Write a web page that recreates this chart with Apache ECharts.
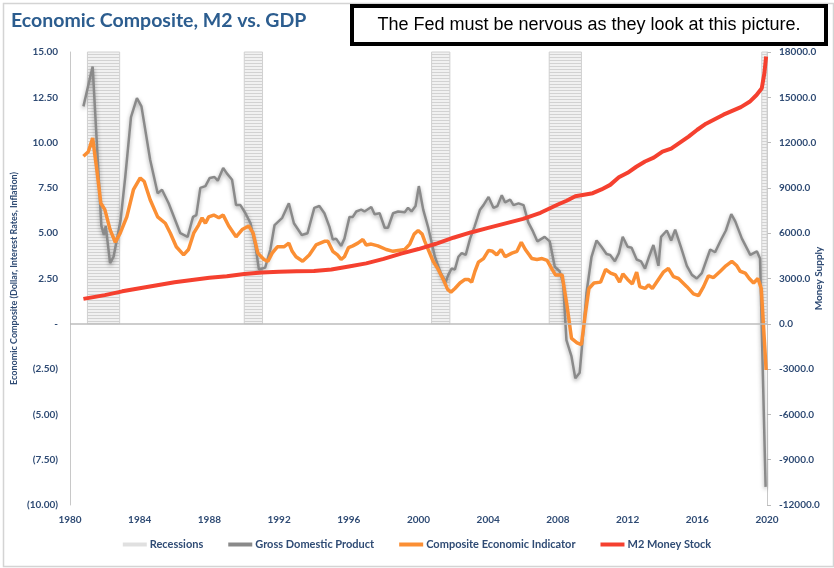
<!DOCTYPE html>
<html>
<head>
<meta charset="utf-8">
<script src="https://cdn.jsdelivr.net/npm/echarts@6/dist/echarts.min.js"></script>
<style>
html,body{margin:0;padding:0;background:#fff;}
#chart{width:834px;height:568px;}
</style>
</head>
<body>
<div id="chart"></div>
<script>
// ---- Data ----
const xTickLabels = ['1980','1984','1988','1992','1996','2000','2004','2008','2012','2016','2020'];
const leftTicks = [-10, -7.5, -5, -2.5, 0, 2.5, 5, 7.5, 10, 12.5, 15];
const rightTicks = [-12000, -9000, -6000, -3000, 0, 3000, 6000, 9000, 12000, 15000, 18000];

const recessions = [
  [1981.0, 1982.85],
  [1990.0, 1991.05],
  [2000.75, 2001.8],
  [2007.5, 2009.35],
  [2019.7, 2020.0]
];

const gdpYears = [1980.77,1981.3,1981.8,1981.95,1982.05,1982.3,1982.5,1982.9,1983.17,1983.5,1983.84,1984.1,1984.6,1985.03,1985.28,1985.66,1986.33,1986.75,1987.06,1987.25,1987.48,1987.77,1988.02,1988.29,1988.48,1988.79,1989.0,1989.3,1989.53,1989.78,1990.07,1990.36,1990.65,1990.84,1991.2,1991.5,1991.74,1992.18,1992.56,1992.85,1993.3,1993.63,1994.02,1994.31,1994.6,1994.89,1995.08,1995.27,1995.56,1995.75,1996.04,1996.23,1996.43,1996.71,1996.9,1997.29,1997.48,1997.77,1998.06,1998.25,1998.54,1998.83,1999.21,1999.4,1999.6,1999.83,2000.02,2000.27,2000.56,2000.94,2001.28,2001.56,2001.71,2001.9,2002.09,2002.29,2002.48,2002.71,2002.96,2003.21,2003.53,2003.73,2004.02,2004.3,2004.53,2004.78,2004.97,2005.26,2005.45,2005.74,2006.03,2006.3,2006.57,2006.82,2007.24,2007.53,2007.82,2008.1,2008.3,2008.49,2008.78,2009.0,2009.25,2009.45,2009.64,2009.93,2010.22,2010.5,2010.79,2011.0,2011.27,2011.5,2011.72,2012.0,2012.23,2012.52,2012.77,2013.0,2013.23,2013.48,2013.77,2013.92,2014.25,2014.5,2014.73,2015.07,2015.4,2015.69,2015.97,2016.26,2016.74,2017.02,2017.37,2017.64,2017.95,2018.18,2018.56,2019.04,2019.42,2019.6,2019.92];
const gdpValues = [12.0,14.2,5.4,4.9,5.4,3.35,3.7,5.7,8.1,11.4,12.45,12.0,9.05,7.2,7.4,6.65,5.0,4.8,5.9,6.0,7.5,7.6,8.05,8.1,7.9,8.6,8.3,7.95,6.55,6.55,6.1,5.55,4.25,3.0,3.1,4.1,5.45,5.85,6.65,5.55,4.9,5.0,6.4,6.5,6.1,5.35,4.65,4.7,4.3,4.7,5.9,5.9,6.2,6.3,6.2,6.45,6.05,6.1,5.3,5.3,6.1,6.2,6.15,6.4,6.2,6.5,7.6,6.3,5.3,3.7,2.8,2.3,2.7,3.05,3.0,3.7,3.9,3.8,4.7,5.35,6.3,6.55,7.0,6.4,6.5,7.1,6.7,6.85,6.55,6.65,6.55,5.6,5.1,4.55,4.8,4.55,3.15,2.9,2.25,-0.9,-1.8,-3.0,-2.7,-0.5,1.7,3.7,4.6,4.25,3.85,3.8,3.45,3.9,4.8,4.25,4.2,3.55,3.45,3.05,3.7,4.35,3.2,4.8,5.15,4.6,5.2,4.2,3.2,2.7,2.5,2.8,4.1,3.95,4.65,5.15,6.05,5.65,4.7,3.8,4.0,3.6,-9.0];

const ciYears = [1980.77,1981.05,1981.3,1981.54,1981.77,1982.0,1982.3,1982.6,1982.88,1983.26,1983.64,1984.03,1984.26,1984.6,1985.03,1985.47,1985.76,1986.1,1986.52,1986.8,1987.1,1987.38,1987.58,1987.77,1987.96,1988.25,1988.54,1988.79,1989.11,1989.53,1989.88,1990.26,1990.51,1990.78,1991.13,1991.36,1991.6,1991.9,1992.28,1992.56,1992.75,1992.97,1993.35,1993.73,1994.12,1994.6,1994.8,1995.08,1995.35,1995.56,1995.75,1995.98,1996.23,1996.52,1996.81,1997.0,1997.29,1997.67,1998.15,1998.54,1998.83,1999.21,1999.5,1999.75,1999.98,2000.21,2000.36,2000.6,2000.84,2001.13,2001.42,2001.67,2001.86,2002.09,2002.38,2002.67,2002.86,2003.05,2003.24,2003.44,2003.73,2004.02,2004.25,2004.49,2004.74,2004.97,2005.36,2005.65,2005.9,2006.13,2006.36,2006.5,2006.8,2007.09,2007.38,2007.67,2007.86,2008.24,2008.53,2008.78,2009.1,2009.35,2009.58,2009.78,2010.07,2010.45,2010.74,2011.03,2011.3,2011.54,2011.73,2012.0,2012.27,2012.52,2012.7,2013.0,2013.2,2013.42,2013.77,2014.05,2014.34,2014.63,2014.92,2015.4,2015.78,2016.07,2016.36,2016.64,2016.93,2017.32,2017.64,2017.98,2018.27,2018.46,2018.75,2018.98,2019.23,2019.48,2019.67,2019.95];
const ciValues = [9.25,9.5,10.25,8.5,6.65,6.3,5.2,4.5,5.0,5.9,7.4,8.05,7.85,6.85,5.9,5.55,5.0,4.25,3.8,4.1,5.0,5.45,5.85,5.55,5.9,6.0,5.85,6.0,5.4,4.8,5.2,5.4,5.0,3.9,3.55,3.45,3.9,4.25,4.25,4.45,4.0,3.7,3.45,3.8,4.35,4.55,4.55,4.0,3.8,3.55,3.7,4.2,4.3,4.45,4.65,4.35,4.4,4.3,4.1,4.0,4.05,4.1,4.4,4.95,5.15,4.95,4.55,4.0,3.45,3.0,2.45,1.9,1.75,1.95,2.25,2.45,2.45,2.3,2.9,3.4,3.6,4.05,4.0,3.8,4.1,3.7,3.9,4.0,4.5,4.1,3.8,3.6,3.55,3.6,3.5,3.0,2.7,2.7,0.95,-0.8,-1.05,-1.15,0.6,1.95,2.25,2.3,3.0,2.8,2.7,2.3,2.75,2.45,2.2,2.85,2.05,1.95,2.15,1.95,2.45,2.85,3.05,2.6,2.5,2.05,1.65,1.55,2.05,2.65,2.55,2.9,3.2,3.45,3.2,2.9,2.8,2.5,2.25,2.5,1.95,-2.55];

const m2Years = [1980.77,1982.0,1983.0,1984.0,1985.0,1986.0,1987.0,1988.0,1989.0,1990.0,1991.0,1992.0,1993.0,1994.0,1995.0,1996.0,1997.0,1998.0,1999.0,2000.0,2001.0,2002.0,2003.0,2004.0,2005.0,2006.0,2007.0,2008.0,2008.5,2009.0,2009.5,2010.0,2010.5,2011.0,2011.5,2012.0,2012.5,2013.0,2013.5,2014.0,2014.5,2015.0,2015.5,2016.0,2016.5,2017.0,2017.5,2018.0,2018.5,2019.0,2019.4,2019.7,2019.85,2019.95];
const m2Values = [1650,1900,2150,2350,2550,2750,2900,3050,3150,3300,3400,3450,3480,3500,3600,3800,4000,4300,4650,4950,5300,5700,6050,6350,6650,6950,7350,7900,8150,8450,8550,8650,8900,9200,9700,10000,10400,10750,11000,11400,11600,12000,12400,12850,13250,13550,13850,14100,14350,14700,15150,15600,16600,17700];

// ---- Styling helpers ----
const labelColor = '#2f4b74';
const pair = (xs, ys) => xs.map((x, i) => [x, ys[i]]);

const pc = document.createElement('canvas');
pc.width = 4; pc.height = 3;
const pctx = pc.getContext('2d');
pctx.fillStyle = '#f1f1f1'; pctx.fillRect(0, 0, 4, 3);
pctx.fillStyle = '#d2d2d2'; pctx.fillRect(0, 0, 4, 1);

const fmtLeft = v => {
  if (Math.abs(v) < 1e-9) return '-';
  if (v < 0) return '(' + Math.abs(v).toFixed(2) + ')';
  return v.toFixed(2);
};

const chart = echarts.init(document.getElementById('chart'));
chart.setOption({
  animation: false,
  backgroundColor: '#fff',
  textStyle: { fontFamily: 'Lato' },
  title: {
    text: 'Economic Composite, M2 vs. GDP',
    left: 6, top: 6,
    textStyle: { fontFamily: 'Lato', fontWeight: 'bold', fontSize: 19.5, color: '#2c5d8f' }
  },
  graphic: [
    { type: 'rect', left: 1, top: 1, shape: { width: 830, height: 563 }, style: { fill: 'none', stroke: '#d4d4d4', lineWidth: 1.5 }, silent: true, z: -1 },
    { type: 'rect', shape: { x: 352, y: 6, width: 474, height: 38 }, style: { fill: '#fff', stroke: '#000', lineWidth: 4 }, z: 10 },
    { type: 'text', x: 589, y: 25, z: 11,
      style: { text: 'The Fed must be nervous as they look at this picture.', fontFamily: 'Liberation Sans', fontSize: 18, fill: '#000', textAlign: 'center', textVerticalAlign: 'middle' } }
  ],
  legend: {
    bottom: 13, left: 'center',
    itemWidth: 24, itemHeight: 4, itemGap: 25,
    textStyle: { fontFamily: 'Lato', fontWeight: 'bold', fontSize: 11, color: labelColor, padding: [0, 0, 0, -2] },
    data: [
      { name: 'Recessions', icon: 'rect' },
      { name: 'Gross Domestic Product', icon: 'rect' },
      { name: 'Composite Economic Indicator', icon: 'rect' },
      { name: 'M2 Money Stock', icon: 'rect' }
    ]
  },
  grid: { left: 70, right: 67, top: 52, bottom: 63, containLabel: false, outerBoundsMode: 'none' },
  xAxis: {
    type: 'value', min: 1980, max: 2020, interval: 4,
    axisLine: { show: false }, axisTick: { show: false }, splitLine: { show: false },
    axisLabel: {
      color: labelColor, fontWeight: 'bold', fontSize: 10, margin: 10,
      formatter: v => { const s = String(Math.round(v)); return xTickLabels.includes(s) ? s : ''; }
    }
  },
  yAxis: [
    {
      type: 'value', min: leftTicks[0], max: leftTicks[leftTicks.length - 1], interval: 2.5,
      name: 'Economic Composite (Dollar, Interest Rates, Inflation)',
      nameLocation: 'middle', nameGap: 51, nameMoveOverlap: false,
      nameTextStyle: { fontFamily: 'Lato', fontWeight: 'bold', fontSize: 9, color: labelColor },
      axisLine: { show: true, lineStyle: { color: '#c8c8c8', width: 1 } },
      axisTick: { show: false }, splitLine: { show: false },
      axisLabel: { color: labelColor, fontWeight: 'bold', fontSize: 10, margin: 12, formatter: fmtLeft }
    },
    {
      type: 'value', min: rightTicks[0], max: rightTicks[rightTicks.length - 1], interval: 3000,
      position: 'right',
      name: 'Money Supply', nameLocation: 'middle', nameGap: 47, nameMoveOverlap: false,
      nameTextStyle: { fontFamily: 'Lato', fontWeight: 'bold', fontSize: 10, color: labelColor },
      axisLine: { show: true, lineStyle: { color: '#c8c8c8', width: 1 } },
      axisTick: { show: true, length: 4, lineStyle: { color: '#bbbbbb' } },
      splitLine: { show: false },
      axisLabel: { color: labelColor, fontWeight: 'bold', fontSize: 10, margin: 12, formatter: v => v.toFixed(1) }
    }
  ],
  series: [
    {
      name: 'Recessions', type: 'line', data: [], yAxisIndex: 0,
      color: '#e0e0e0',
      itemStyle: { color: '#e0e0e0' }, lineStyle: { color: '#e0e0e0' },
      markArea: {
        silent: true,
        itemStyle: { color: { image: pc, repeat: 'repeat' }, borderColor: '#d0d0d0', borderWidth: 1 },
        data: recessions.map(r => [{ xAxis: r[0], yAxis: 0 }, { xAxis: r[1], yAxis: 15 }])
      },
      z: 1
    },
    {
      name: 'Gross Domestic Product', type: 'line', yAxisIndex: 0,
      data: pair(gdpYears, gdpValues), showSymbol: false, symbol: 'none',
      color: '#8a8a8a',
      lineStyle: { color: '#8a8a8a', width: 2.5, shadowColor: 'rgba(0,0,0,0.35)', shadowBlur: 4, shadowOffsetY: 2 },
      markLine: {
        silent: true, symbol: 'none', label: { show: false },
        lineStyle: { color: '#bdbdbd', width: 1.5, type: 'solid' },
        data: [{ yAxis: 0 }]
      },
      z: 3
    },
    {
      name: 'Composite Economic Indicator', type: 'line', yAxisIndex: 0,
      data: pair(ciYears, ciValues), showSymbol: false, symbol: 'none',
      color: '#fb8f34',
      lineStyle: { color: '#fb8f34', width: 3.5 },
      z: 4
    },
    {
      name: 'M2 Money Stock', type: 'line', yAxisIndex: 1,
      data: pair(m2Years, m2Values), showSymbol: false, symbol: 'none',
      color: '#f5402f',
      lineStyle: { color: '#f5402f', width: 4 },
      z: 5
    }
  ]
});
</script>
</body>
</html>
